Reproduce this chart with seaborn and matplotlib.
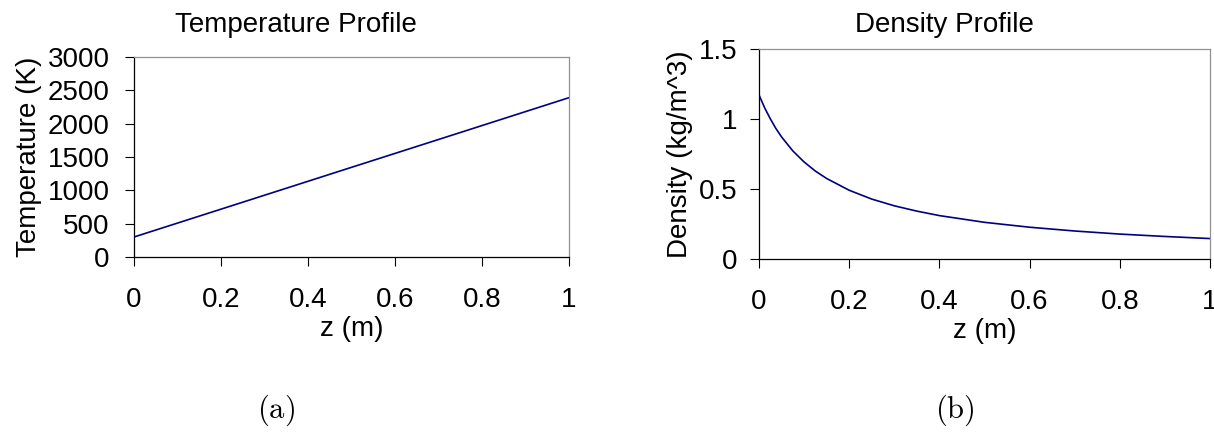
import matplotlib
matplotlib.use("Agg")
import matplotlib.pyplot as plt
import seaborn as sns
import pandas as pd

# Temperature along the axis (K)
z_temp = [0.0, 0.25, 0.5, 0.75, 1.0]
temperature = [300, 822, 1345, 1867, 2390]

# Density along the axis (kg/m^3)
z_dens = [0.0, 0.0125, 0.025, 0.0375, 0.05, 0.075, 0.1, 0.125, 0.15, 0.2,
          0.25, 0.3, 0.35, 0.4, 0.5, 0.6, 0.7, 0.8, 0.9, 1.0]
density = [1.172, 1.080, 1.002, 0.932, 0.872, 0.772, 0.693, 0.628, 0.575, 0.491,
           0.428, 0.380, 0.342, 0.310, 0.262, 0.227, 0.200, 0.178, 0.161, 0.146]

temp_ticks = [0, 500, 1000, 1500, 2000, 2500, 3000]
dens_ticks = [0, 0.5, 1, 1.5]
dens_tick_labels = ["0", "0.5", "1", "1.5"]
z_ticks = [0, 0.2, 0.4, 0.6, 0.8, 1]
z_tick_labels = ["0", "0.2", "0.4", "0.6", "0.8", "1"]

sns.set_style("ticks")
plt.rcParams["font.family"] = ["Liberation Sans", "DejaVu Sans"]
plt.rcParams["mathtext.fontset"] = "cm"
plt.rcParams["text.color"] = "black"
plt.rcParams["axes.labelcolor"] = "black"
plt.rcParams["xtick.color"] = "black"
plt.rcParams["ytick.color"] = "black"

W, H = 1214, 440
fig = plt.figure(figsize=(W / 100, H / 100), dpi=100)


def px_axes(x0, y0, x1, y1):
    return fig.add_axes([x0 / W, 1 - y1 / H, (x1 - x0) / W, (y1 - y0) / H])


ax_t = px_axes(134, 57, 569, 257)
ax_d = px_axes(759, 49, 1210, 259)

df_t = pd.DataFrame({"z": z_temp, "T": temperature})
df_d = pd.DataFrame({"z": z_dens, "rho": density})

line_color = "#000080"
sns.lineplot(data=df_t, x="z", y="T", ax=ax_t, color=line_color, linewidth=1.2)
sns.lineplot(data=df_d, x="z", y="rho", ax=ax_d, color=line_color, linewidth=1.2)

fs = 20
for ax, yt, ytl, ylim, ylab, ypad in [
    (ax_t, temp_ticks, [str(t) for t in temp_ticks], (0, 3000), "Temperature (K)", 11),
    (ax_d, dens_ticks, dens_tick_labels, (0, 1.5), "Density (kg/m^3)", 9),
]:
    ax.set_xlim(0, 1)
    ax.set_ylim(*ylim)
    ax.set_xticks(z_ticks)
    ax.set_xticklabels(z_tick_labels)
    ax.set_yticks(yt)
    ax.set_yticklabels(ytl)
    ax.tick_params(axis="x", direction="out", length=6.5, width=0.8, pad=15,
                   labelsize=fs, color="black", labelcolor="black")
    ax.tick_params(axis="y", direction="out", length=6.5, width=0.8, pad=ypad,
                   labelsize=fs, color="black", labelcolor="black")
    ax.set_xlabel("z (m)", fontsize=fs, labelpad=2, color="black")
    ax.set_ylabel(ylab, fontsize=fs, labelpad=4, color="black")
    for side in ("left", "bottom"):
        ax.spines[side].set_color("black")
        ax.spines[side].set_linewidth(0.9)
    for side in ("top", "right"):
        ax.spines[side].set_visible(True)
        ax.spines[side].set_color("#909090")
        ax.spines[side].set_linewidth(0.9)

fig.text(296 / W, 1 - 25 / H, "Temperature Profile", fontsize=fs,
         ha="center", va="center", color="black")
fig.text(944 / W, 1 - 25 / H, "Density Profile", fontsize=fs,
         ha="center", va="center", color="black")

fig.text(276 / W, 1 - 410 / H, r"$\mathrm{(a)}$", fontsize=22,
         ha="center", va="center", color="black")
fig.text(955 / W, 1 - 410 / H, r"$\mathrm{(b)}$", fontsize=22,
         ha="center", va="center", color="black")

fig.savefig("out.png", dpi=100, facecolor="white")
